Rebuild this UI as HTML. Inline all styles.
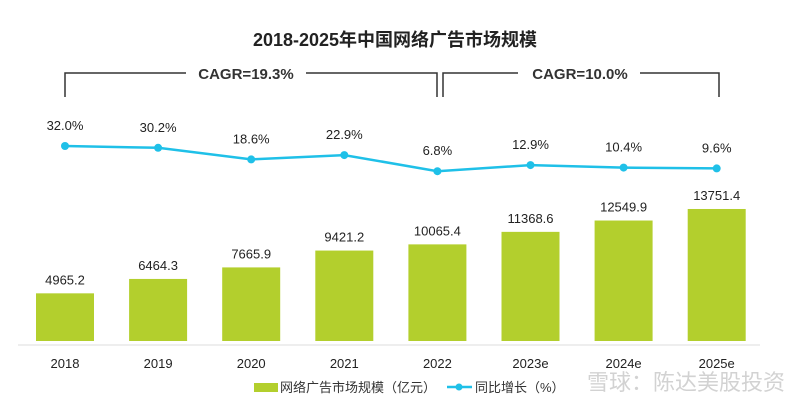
<!DOCTYPE html>
<html><head><meta charset="utf-8"><style>
body{margin:0;background:#fff;}
svg text{font-family:"Liberation Sans","Noto Sans CJK SC",sans-serif;}
</style></head><body>
<svg width="790" height="402" viewBox="0 0 790 402">
<text x="395" y="46" text-anchor="middle" font-size="18" font-weight="bold" fill="#222">2018-2025年中国网络广告市场规模</text>
<g stroke="#333" stroke-width="1.5" fill="none">
<polyline points="65,97 65,73 186,73"/><polyline points="306,73 437,73 437,97"/>
<polyline points="443,97 443,73 518,73"/><polyline points="640,73 719,73 719,97"/>
</g>
<text x="246" y="79" text-anchor="middle" font-size="15" font-weight="bold" fill="#333">CAGR=19.3%</text>
<text x="580" y="79" text-anchor="middle" font-size="15" font-weight="bold" fill="#333">CAGR=10.0%</text>
<line x1="18" y1="345" x2="760" y2="345" stroke="#ddd"/>
<g id="bars"></g><g id="line"></g>
<g>
<rect x="254" y="383" width="24" height="9" fill="#b3cf2d"/>
<text x="280" y="392" font-size="13" fill="#333">网络广告市场规模（亿元）</text>
<line x1="447" y1="387" x2="472" y2="387" stroke="#1fc0e8" stroke-width="2.5"/>
<circle cx="459" cy="387" r="3.5" fill="#1fc0e8"/>
<text x="475" y="392" font-size="13" fill="#333">同比增长（%）</text>
</g>
<text x="785" y="390" text-anchor="end" font-size="22" fill="#c8c8c8" opacity="0.8">雪球：陈达美股投资</text>
</svg>
<script>
const categories=["2018","2019","2020","2021","2022","2023e","2024e","2025e"];
const marketSize=[4965.2,6464.3,7665.9,9421.2,10065.4,11368.6,12549.9,13751.4];
const growth=[32.0,30.2,18.6,22.9,6.8,12.9,10.4,9.6];
const ns="http://www.w3.org/2000/svg";
const xPos=i=>65+i*93.1;
const yBar=v=>341-v*0.0096;
const yLine=p=>178-p;
const bars=document.getElementById('bars'),line=document.getElementById('line');
function mk(t,a,p){const e=document.createElementNS(ns,t);for(const k in a)e.setAttribute(k,a[k]);p.appendChild(e);return e;}
categories.forEach((c,i)=>{
 const x=xPos(i),y=yBar(marketSize[i]);
 const r=mk('rect',{x:x-29,y:y,width:58,height:341-y,fill:'#b3cf2d'},bars);
 
 
 const t=mk('text',{x:x,y:y-9,'text-anchor':'middle','font-size':13,fill:'#222'},bars);t.textContent=marketSize[i].toFixed(1);
 
 
 const l=mk('text',{x:x,y:368,'text-anchor':'middle','font-size':13,fill:'#222'},bars);l.textContent=c;
 
 
});
const pl=mk('polyline',{points:growth.map((g,i)=>xPos(i)+','+yLine(g)).join(' '),fill:'none',stroke:'#1fc0e8','stroke-width':2.5},line);


growth.forEach((g,i)=>{
 const c=mk('circle',{cx:xPos(i),cy:yLine(g),r:4,fill:'#1fc0e8'},line);
 
 
 const t=mk('text',{x:xPos(i),y:yLine(g)-16,'text-anchor':'middle','font-size':13,fill:'#222'},line);t.textContent=g.toFixed(1)+'%';
 
 
});
</script>
</body></html>
